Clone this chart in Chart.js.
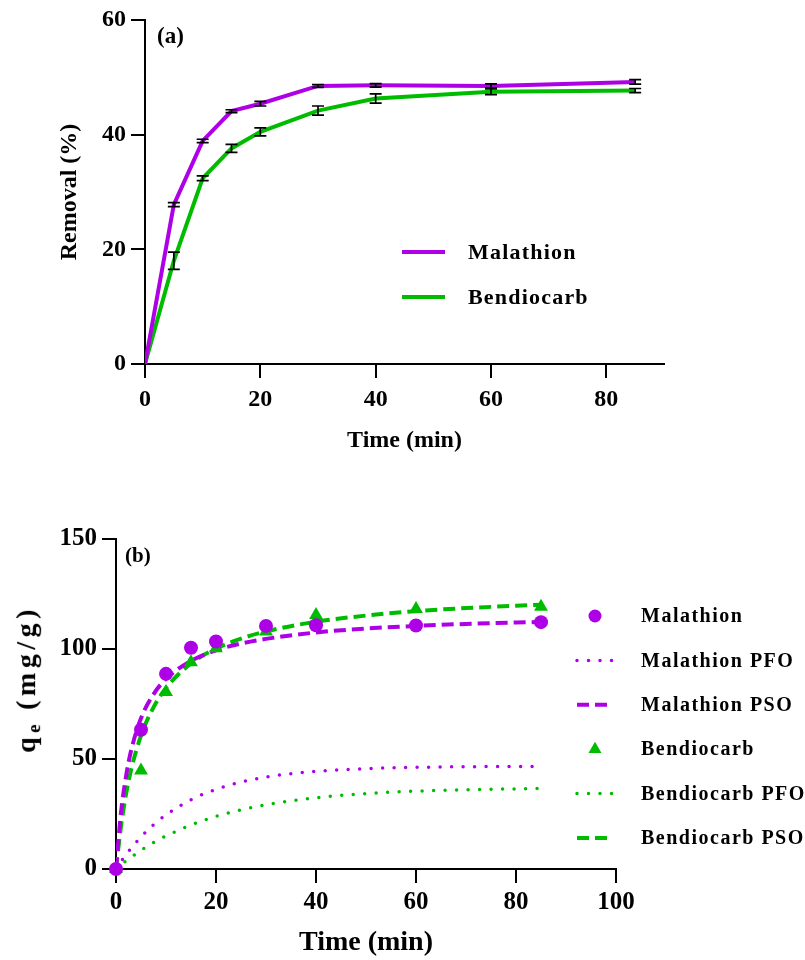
<!DOCTYPE html>
<html>
<head>
<meta charset="utf-8">
<script src="https://cdn.jsdelivr.net/npm/chart.js@4.4.0/dist/chart.umd.min.js"></script>
<style>
  html, body { margin: 0; padding: 0; background: #fff; }
  body { width: 805px; height: 960px; position: relative; overflow: hidden;
         font-family: 'Liberation Serif', 'Times New Roman', serif; }
  .panel { position: absolute; left: 0; width: 805px; height: 480px; }
  #panelA { top: 0; }
  #panelB { top: 480px; }
  .tag { position: absolute; font-weight: bold; color: #000; }
  #qeTitle { position: absolute; left: 30px; top: 679px; white-space: nowrap;
             transform: translate(-50%, -50%) rotate(-90deg);
             font-weight: bold; font-size: 28px; letter-spacing: 4.5px; color: #000; line-height: 30px; }
  #qeTitle sub { font-size: 0.68em; vertical-align: -0.25em; letter-spacing: 3px; }
</style>
</head>
<body>
<div class="panel" id="panelA"><canvas id="chartA" width="805" height="480"></canvas></div>
<div class="panel" id="panelB"><canvas id="chartB" width="805" height="480"></canvas></div>
<div class="tag" style="left:157px; top:24px; font-size:23px; line-height:23px;">(a)</div>
<div class="tag" style="left:125px; top:545px; font-size:21px; line-height:21px;">(b)</div>
<div id="qeTitle">q<sub>e</sub> (mg/g)</div>

<script>
// ---------- (a) removal vs contact time ----------
const timeA = [0, 5, 10, 15, 20, 30, 40, 60, 85];
const removalMalathion = [0, 27.8, 38.9, 44.1, 45.4, 48.5, 48.6, 48.5, 49.2];
const removalMalathionErr = [0, 0.35, 0.3, 0.25, 0.4, 0.25, 0.3, 0.35, 0.4];
const removalBendiocarb = [0, 18.0, 32.4, 37.6, 40.5, 44.2, 46.3, 47.5, 47.7];
const removalBendiocarbErr = [0, 1.5, 0.4, 0.7, 0.7, 0.8, 0.8, 0.5, 0.35];
const ticksTimeA = [0, 20, 40, 60, 80];
const ticksRemoval = [0, 20, 40, 60];

// ---------- (b) adsorption capacity and kinetic fits ----------
const timeB = [0, 5, 10, 15, 20, 30, 40, 60, 85];
const qeMalathion = [0, 63.3, 88.7, 100.6, 103.4, 110.5, 110.8, 110.7, 112.2];
const qeBendiocarb = [0, 44.8, 80.5, 94.0, 100.3, 108.0, 115.5, 118.2, 119.2];
const fitTime = [0, 1, 2, 3, 5, 7.5, 10, 15, 20, 25, 30, 40, 50, 60, 70, 85];
const pfoMalathion = [0, 3.4, 6.5, 9.4, 14.6, 20.1, 24.6, 31.5, 36.2, 39.5, 41.8, 44.4, 45.6, 46.2, 46.5, 46.6];
const psoMalathion = [0, 25.7, 42.0, 53.6, 68.5, 79.4, 86.4, 94.6, 99.4, 102.5, 104.6, 107.5, 109.3, 110.5, 111.4, 112.3];
const pfoBendiocarb = [0, 1.9, 3.7, 5.3, 8.5, 12.0, 15.0, 20.0, 23.9, 26.9, 29.2, 32.4, 34.3, 35.4, 36.0, 36.6];
const psoBendiocarb = [0, 19.5, 33.9, 44.9, 60.6, 73.5, 82.3, 93.4, 100.2, 104.7, 108.0, 112.4, 115.2, 117.2, 118.6, 120.1];
const ticksTimeB = [0, 20, 40, 60, 80, 100];
const ticksQe = [0, 50, 100, 150];

const PURPLE = '#AE00E6';
const GREEN = '#00BC00';
const FONT = "'Liberation Serif', 'Times New Roman', serif";

const pts = (xs, ys) => xs.map((x, i) => ({ x: x, y: ys[i] }));

// vertical error bars with caps, drawn from each dataset's "errors" array
const errorBarPlugin = {
  id: 'errorBars',
  afterDatasetsDraw(chart, args, opts) {
    const { ctx, scales: { x, y } } = chart;
    ctx.save();
    ctx.strokeStyle = opts.color;
    ctx.lineWidth = opts.lineWidth;
    chart.data.datasets.forEach((ds, di) => {
      if (!ds.errors || !chart.isDatasetVisible(di)) return;
      ds.data.forEach((p, i) => {
        const e = ds.errors[i];
        if (!e) return;
        const px = x.getPixelForValue(p.x);
        const yt = y.getPixelForValue(p.y + e);
        const yb = y.getPixelForValue(p.y - e);
        const hw = opts.capWidth / 2;
        ctx.beginPath();
        ctx.moveTo(px, yt); ctx.lineTo(px, yb);
        ctx.moveTo(px - hw, yt); ctx.lineTo(px + hw, yt);
        ctx.moveTo(px - hw, yb); ctx.lineTo(px + hw, yb);
        ctx.stroke();
      });
    });
    ctx.restore();
  }
};

function drawMarker(ctx, style, cx, cy, r, color) {
  ctx.save();
  ctx.fillStyle = color;
  ctx.beginPath();
  if (style === 'triangle') {
    let a = 0;
    ctx.moveTo(cx + Math.sin(a) * r, cy - Math.cos(a) * r);
    a += 2 * Math.PI / 3;
    ctx.lineTo(cx + Math.sin(a) * r, cy - Math.cos(a) * r);
    a += 2 * Math.PI / 3;
    ctx.lineTo(cx + Math.sin(a) * r, cy - Math.cos(a) * r);
    ctx.closePath();
  } else {
    ctx.arc(cx, cy, r, 0, Math.PI * 2);
  }
  ctx.fill();
  ctx.restore();
}

// series key placed at fixed canvas position, styled from the datasets
const seriesKeyPlugin = {
  id: 'seriesKey',
  afterDraw(chart, args, opts) {
    const ctx = chart.ctx;
    ctx.save();
    ctx.font = 'bold ' + opts.fontSize + 'px ' + FONT;
    if ('letterSpacing' in ctx) ctx.letterSpacing = opts.letterSpacing + 'px';
    ctx.textBaseline = 'middle';
    ctx.textAlign = 'left';
    opts.order.forEach((di, row) => {
      const ds = chart.data.datasets[di];
      const cy = opts.top + row * opts.rowGap;
      const x0 = opts.left, x1 = opts.left + opts.swatchWidth;
      if (ds.showLine === false) {
        drawMarker(ctx, ds.pointStyle, (x0 + x1) / 2, cy, ds.pointRadius - 0.5, ds.backgroundColor);
      } else {
        ctx.save();
        ctx.strokeStyle = ds.borderColor;
        ctx.lineWidth = ds.borderWidth;
        ctx.lineCap = ds.borderCapStyle || 'butt';
        ctx.setLineDash(ds.borderDash || []);
        ctx.beginPath();
        ctx.moveTo(x0, cy); ctx.lineTo(x1, cy);
        ctx.stroke();
        ctx.restore();
      }
      ctx.fillStyle = '#000';
      ctx.fillText(ds.label, opts.left + opts.textOffset, cy + 1);
    });
    ctx.restore();
  }
};

function axis(ticksList, min, max, fontSize, pad, fit, title) {
  return {
    type: 'linear', min: min, max: max,
    afterBuildTicks: s => { s.ticks = ticksList.map(v => ({ value: v })); },
    afterFit: fit,
    grid: { display: true, drawOnChartArea: false, drawTicks: true, tickLength: 14, color: '#000', lineWidth: 2 },
    border: { display: true, color: '#000', width: 2 },
    ticks: { color: '#000', padding: pad, maxRotation: 0, font: { family: FONT, size: fontSize, weight: 'bold' } },
    title: title
  };
}

new Chart(document.getElementById('chartA'), {
  type: 'line',
  data: {
    datasets: [
      { label: 'Malathion', data: pts(timeA, removalMalathion), errors: removalMalathionErr,
        borderColor: PURPLE, backgroundColor: PURPLE, borderWidth: 4, pointRadius: 0, tension: 0, fill: false },
      { label: 'Bendiocarb', data: pts(timeA, removalBendiocarb), errors: removalBendiocarbErr,
        borderColor: GREEN, backgroundColor: GREEN, borderWidth: 4, pointRadius: 0, tension: 0, fill: false }
    ]
  },
  options: {
    responsive: false, animation: false, devicePixelRatio: 1,
    layout: { padding: { left: 0, top: 20, right: 141, bottom: 0 } },
    plugins: {
      legend: { display: false }, tooltip: { enabled: false },
      errorBars: { capWidth: 12, lineWidth: 1.7, color: '#000' },
      seriesKey: { order: [0, 1], left: 402, top: 252, rowGap: 45, swatchWidth: 43, textOffset: 66, fontSize: 22, letterSpacing: 1.2 }
    },
    scales: {
      x: axis(ticksTimeA, 0, 90, 24, 7, s => { s.height = 116; },
        { display: true, text: 'Time (min)', color: '#000', font: { family: FONT, size: 24, weight: 'bold' }, padding: { top: 0, bottom: 25 } }),
      y: axis(ticksRemoval, 0, 60, 24, 5, s => { s.width = 145; },
        { display: true, text: 'Removal (%)', color: '#000', font: { family: FONT, size: 24, weight: 'bold' }, padding: { top: 55, bottom: 0 } })
    }
  },
  plugins: [errorBarPlugin, seriesKeyPlugin]
});

new Chart(document.getElementById('chartB'), {
  type: 'line',
  data: {
    datasets: [
      { label: 'Malathion', data: pts(timeB, qeMalathion), showLine: false, pointStyle: 'circle',
        pointRadius: 7, borderWidth: 0, backgroundColor: PURPLE, borderColor: PURPLE, order: 0, clip: false },
      { label: 'Malathion PFO', data: pts(fitTime, pfoMalathion), borderColor: PURPLE, borderWidth: 3.5,
        borderDash: [0, 11.5], borderCapStyle: 'round', pointRadius: 0, cubicInterpolationMode: 'monotone', order: 4 },
      { label: 'Malathion PSO', data: pts(fitTime, psoMalathion), borderColor: PURPLE, borderWidth: 4,
        borderDash: [12, 6], pointRadius: 0, cubicInterpolationMode: 'monotone', order: 2 },
      { label: 'Bendiocarb', data: pts(timeB, qeBendiocarb), showLine: false, pointStyle: 'triangle',
        pointRadius: 8, borderWidth: 0, backgroundColor: GREEN, borderColor: GREEN, order: 1, clip: false },
      { label: 'Bendiocarb PFO', data: pts(fitTime, pfoBendiocarb), borderColor: GREEN, borderWidth: 3.5,
        borderDash: [0, 11.5], borderCapStyle: 'round', pointRadius: 0, cubicInterpolationMode: 'monotone', order: 5 },
      { label: 'Bendiocarb PSO', data: pts(fitTime, psoBendiocarb), borderColor: GREEN, borderWidth: 4,
        borderDash: [12, 6], pointRadius: 0, cubicInterpolationMode: 'monotone', order: 3 }
    ]
  },
  options: {
    responsive: false, animation: false, devicePixelRatio: 1,
    layout: { padding: { left: 0, top: 59, right: 189, bottom: 0 } },
    plugins: {
      legend: { display: false }, tooltip: { enabled: false },
      seriesKey: { order: [0, 1, 2, 3, 4, 5], left: 577, top: 136, rowGap: 44.4, swatchWidth: 36, textOffset: 64, fontSize: 20, letterSpacing: 1.5 }
    },
    scales: {
      x: axis(ticksTimeB, 0, 100, 25, 5, s => { s.height = 91; },
        { display: true, text: 'Time (min)', color: '#000', font: { family: FONT, size: 28, weight: 'bold' }, padding: { top: 0, bottom: 0 } }),
      y: axis(ticksQe, 0, 150, 25, 5, s => { s.width = 116; }, { display: false })
    }
  },
  plugins: [seriesKeyPlugin]
});
</script>
</body>
</html>
